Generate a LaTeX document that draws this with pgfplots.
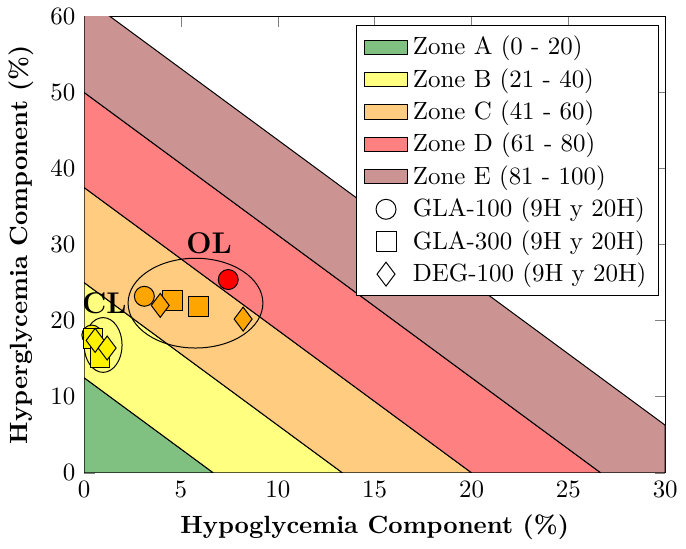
\documentclass[border=0pt]{standalone}
\usepackage{pgfplots}
\pgfplotsset{compat=1.18}
\definecolor{zA}{HTML}{80C080}
\definecolor{zB}{HTML}{FFFF80}
\definecolor{zC}{HTML}{FFCC80}
\definecolor{zD}{HTML}{FF8080}
\definecolor{zE}{HTML}{CC9393}
\definecolor{mOr}{HTML}{FFA500}
\begin{document}
\begin{tikzpicture}
\begin{axis}[
  scale only axis,
  width=233pt, height=183pt,
  xmin=0, xmax=30, ymin=0, ymax=60,
  xtick={0,5,...,30}, ytick={0,10,...,60},
  xlabel={\textbf{Hypoglycemia Component (\%)}},
  ylabel={\textbf{Hyperglycemia Component (\%)}},
  legend style={at={(0.99,0.98)}, anchor=north east, draw=black,
    cells={anchor=west}, row sep=0pt},
  legend cell align=left,
  clip=true,
]
% zones, CGRI = 3 hypo + 1.6 hyper
\addplot[fill=zA, draw=black, area legend] coordinates {(0,0) (6.667,0) (0,12.5)} \closedcycle;
\addlegendentry{Zone A (0 - 20)}
\addplot[fill=zB, draw=black, area legend] coordinates {(6.667,0) (13.333,0) (0,25) (0,12.5) (6.667,0)};
\addlegendentry{Zone B (21 - 40)}
\addplot[fill=zC, draw=black, area legend] coordinates {(13.333,0) (20,0) (0,37.5) (0,25) (13.333,0)};
\addlegendentry{Zone C (41 - 60)}
\addplot[fill=zD, draw=black, area legend] coordinates {(20,0) (26.667,0) (0,50) (0,37.5) (20,0)};
\addlegendentry{Zone D (61 - 80)}
\addplot[fill=zE, draw=black, area legend] coordinates {(26.667,0) (30,0) (30,6.25) (0,62.5) (0,50) (26.667,0)};
\addlegendentry{Zone E (81 - 100)}
\addlegendimage{only marks, mark=o, mark size=4pt, black}
\addlegendentry{GLA-100 (9H y 20H)}
\addlegendimage{only marks, mark=square, mark size=4pt, black}
\addlegendentry{GLA-300 (9H y 20H)}
\addlegendimage{only marks, mark=diamond, mark size=4.8pt, black}
\addlegendentry{DEG-100 (9H y 20H)}
% ellipses
\draw[black] (axis cs:0.98,16.8) ellipse [x radius=0.98, y radius=3.6];
\draw[black] (axis cs:5.75,22.3) ellipse [x radius=3.48, y radius=5.9];
\node[font=\bfseries\large] at (axis cs:1.05,22.3) {CL};
\node[font=\bfseries\large] at (axis cs:6.45,30.2) {OL};
% CL group
\addplot[only marks, mark=*, mark size=4pt, mark options={fill=yellow, draw=black}, forget plot] coordinates {(0.40,18.1)};
\addplot[only marks, mark=square*, mark size=4pt, mark options={fill=yellow, draw=black}, forget plot] coordinates {(0.46,17.7) (0.82,15.2)};
\addplot[only marks, mark=diamond*, mark size=4.8pt, mark options={fill=yellow, draw=black}, forget plot] coordinates {(0.57,17.4) (1.19,16.4)};
% OL group
\addplot[only marks, mark=*, mark size=4pt, mark options={fill=mOr, draw=black}, forget plot] coordinates {(3.11,23.2)};
\addplot[only marks, mark=*, mark size=4pt, mark options={fill=red, draw=black}, forget plot] coordinates {(7.44,25.4)};
\addplot[only marks, mark=square*, mark size=4pt, mark options={fill=mOr, draw=black}, forget plot] coordinates {(4.57,22.7) (5.89,21.8)};
\addplot[only marks, mark=diamond*, mark size=4.8pt, mark options={fill=mOr, draw=black}, forget plot] coordinates {(3.93,22.0) (8.21,20.2)};
\end{axis}
\end{tikzpicture}
\end{document}
